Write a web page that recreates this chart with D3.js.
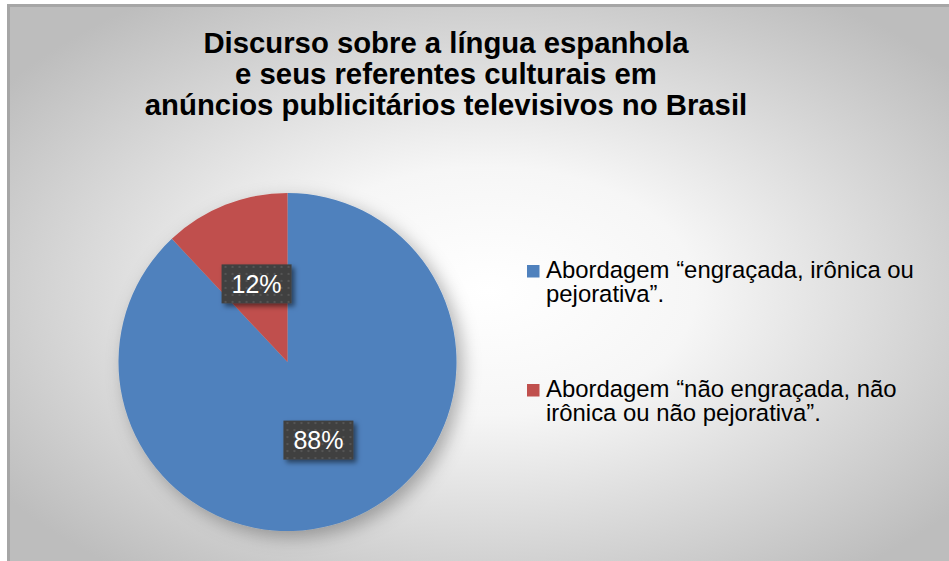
<!DOCTYPE html>
<html>
<head>
<meta charset="utf-8">
<script src="https://cdn.jsdelivr.net/npm/d3@7"></script>
<style>
  body { margin: 0; background: #ffffff; }
  svg { display: block; font-family: "Liberation Sans", Arial, sans-serif; }
</style>
</head>
<body>
<div id="container"></div>
<script>
// <---------data---------->
let titleLines = [
  "Discurso sobre a língua espanhola",
  "e seus referentes culturais em",
  "anúncios publicitários televisivos no Brasil"
];
let categories = [
  "Abordagem “engraçada, irônica ou pejorativa”.",
  "Abordagem “não engraçada, não irônica ou não pejorativa”."
];
let legendLines = [
  ["Abordagem “engraçada, irônica ou", "pejorativa”."],
  ["Abordagem “não engraçada, não", "irônica ou não pejorativa”."]
];
let values = [88, 12];
let colors = ["#4f81bd", "#c0504d"];

let W = 949, H = 561;

// <---------the canvas---------->
let viz = d3.select("#container")
  .append("svg")
    .attr("width", W)
    .attr("height", H);

let defs = viz.append("defs");

let bg = defs.append("radialGradient")
    .attr("id", "bgGrad")
    .attr("cx", "50%").attr("cy", "50%").attr("r", "62%");
bg.append("stop").attr("offset", "0%").attr("stop-color", "#ffffff");
bg.append("stop").attr("offset", "35%").attr("stop-color", "#f6f6f6");
bg.append("stop").attr("offset", "100%").attr("stop-color", "#bdbdbd");

let pieShadow = defs.append("filter").attr("id", "pieShadow")
    .attr("x", "-20%").attr("y", "-20%").attr("width", "150%").attr("height", "150%");
pieShadow.append("feDropShadow")
    .attr("dx", 6).attr("dy", 6).attr("stdDeviation", 9)
    .attr("flood-color", "#000").attr("flood-opacity", 0.3);

let boxShadow = defs.append("filter").attr("id", "boxShadow")
    .attr("x", "-20%").attr("y", "-30%").attr("width", "150%").attr("height", "170%");
boxShadow.append("feDropShadow")
    .attr("dx", 3).attr("dy", 3).attr("stdDeviation", 2.5)
    .attr("flood-color", "#000").attr("flood-opacity", 0.5);

let dots = defs.append("pattern").attr("id", "dots")
    .attr("patternUnits", "userSpaceOnUse")
    .attr("width", 7).attr("height", 7);
dots.append("rect").attr("width", 7).attr("height", 7).attr("fill", "#404040");
dots.append("rect").attr("x", 3).attr("y", 3).attr("width", 2).attr("height", 2).attr("fill", "#555555");

// chart area + border
viz.append("rect")
    .attr("x", 8.5).attr("y", 5.5)
    .attr("width", W + 10).attr("height", H + 10)
    .attr("fill", "url(#bgGrad)")
    .attr("stroke", "#a6a6a6")
    .attr("stroke-width", 3);

// <---------title---------->
viz.append("g").selectAll("text").data(titleLines).enter()
  .append("text")
    .attr("x", 446)
    .attr("y", (d, i) => 53 + i * 31)
    .attr("text-anchor", "middle")
    .style("font-size", "29.3px")
    .style("font-weight", "bold")
    .style("fill", "#000")
    .text(d => d);

// <---------pie---------->
let cx = 287.5, cy = 362, R = 169;
let total = d3.sum(values);
let pct = d3.format(".0%");

let pie = d3.pie().sort(null).value(d => d);
let arcs = pie(values);
let arc = d3.arc().innerRadius(0).outerRadius(R);
let labelArc = d3.arc().innerRadius(84).outerRadius(84);

let pieGroup = viz.append("g")
    .attr("transform", "translate(" + cx + ", " + cy + ")");

pieGroup.append("g")
    .attr("filter", "url(#pieShadow)")
  .selectAll("path").data(arcs).enter()
  .append("path")
    .attr("d", arc)
    .attr("fill", (d, i) => colors[i]);

let labels = pieGroup.selectAll(".lbl").data(arcs).enter()
  .append("g")
    .attr("class", "lbl")
    .attr("transform", d => "translate(" + labelArc.centroid(d) + ")");

labels.append("rect")
    .attr("x", -35).attr("y", -19.5)
    .attr("width", 70).attr("height", 39)
    .attr("fill", "url(#dots)")
    .attr("filter", "url(#boxShadow)");

labels.append("text")
    .attr("text-anchor", "middle")
    .attr("y", 9)
    .style("font-size", "25px")
    .style("fill", "#ffffff")
    .text(d => pct(d.value / total));

// <---------legend---------->
let legend = viz.selectAll(".legend").data(categories).enter()
  .append("g")
    .attr("class", "legend")
    .attr("transform", (d, i) => "translate(527, " + (265 + i * 119) + ")");

legend.append("rect")
    .attr("width", 12.5).attr("height", 12.5)
    .attr("fill", (d, i) => colors[i]);

legend.each(function(d, i) {
  d3.select(this).selectAll("text").data(legendLines[i]).enter()
    .append("text")
      .attr("x", 19)
      .attr("y", (t, j) => 12.5 + j * 24)
      .style("font-size", "23.9px")
      .style("fill", "#000")
      .text(t => t);
});
</script>
</body>
</html>
